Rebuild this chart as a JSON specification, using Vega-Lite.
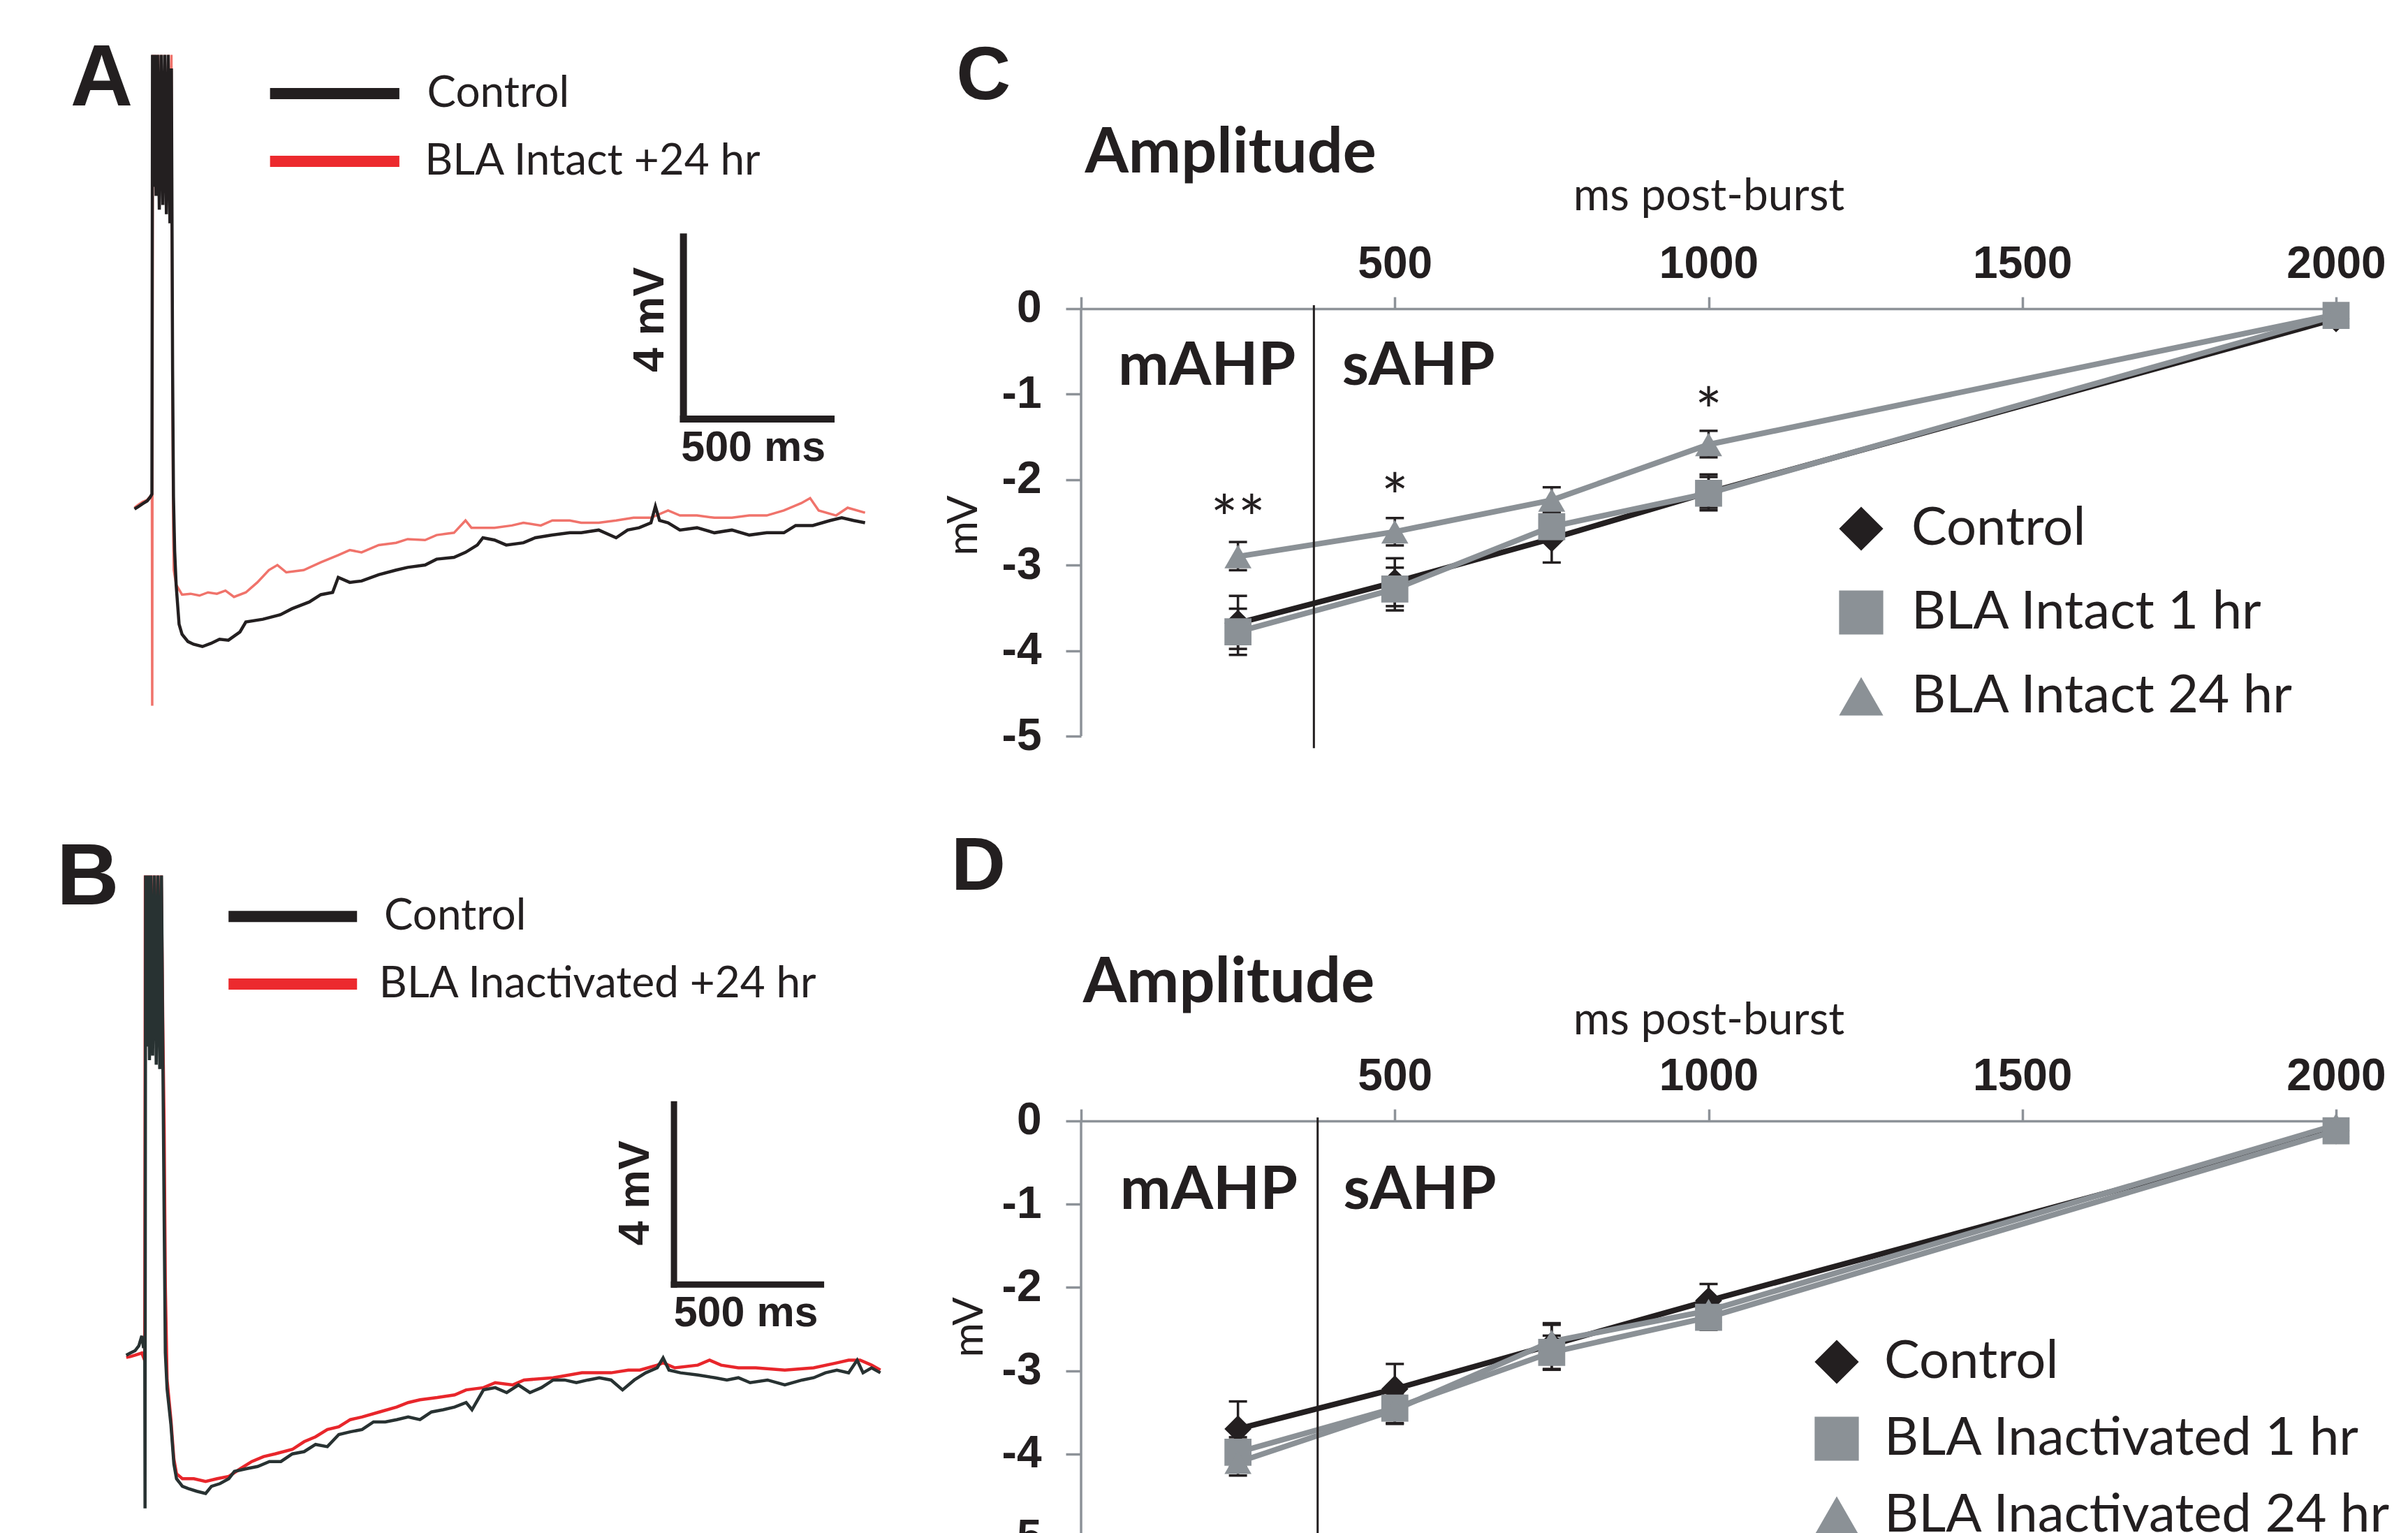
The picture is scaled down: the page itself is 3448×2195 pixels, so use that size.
{
"$schema": "https://vega.github.io/schema/vega-lite/v6.json",
"background": "white",
"padding": {"left": 80, "top": 51, "right": 0, "bottom": 0},
"config": {
  "view": {"stroke": null},
  "axis": {"domainColor": "#8d9298", "tickColor": "#8d9298", "domainWidth": 3.5, "tickWidth": 3.5, "labelColor": "#231f20", "labelFont": "Liberation Sans Narrow, Liberation Sans", "labelFontWeight": "bold", "labelFontSize": 64, "grid": false, "titleColor": "#231f20", "titleFont": "Lato", "titleFontWeight": "normal", "titleFontSize": 62}
},
"datasets": {
  "traceA": [
    {"series":"Control","t":-59,"v":-0.08},{"series":"Control","t":-45,"v":-0.02},{"series":"Control","t":-31,"v":0.04},{"series":"Control","t":-16,"v":0.1},{"series":"Control","t":-6,"v":0.18},{"series":"Control","t":0,"v":0.25},{"series":"Control","t":2,"v":9.9},{"series":"Control","t":5,"v":7.0},{"series":"Control","t":9,"v":9.9},{"series":"Control","t":14,"v":6.8},{"series":"Control","t":19,"v":9.9},{"series":"Control","t":25,"v":6.5},{"series":"Control","t":31,"v":9.9},{"series":"Control","t":37,"v":6.6},{"series":"Control","t":43,"v":9.9},{"series":"Control","t":49,"v":6.4},{"series":"Control","t":55,"v":9.9},{"series":"Control","t":61,"v":6.2},{"series":"Control","t":66,"v":9.6},{"series":"Control","t":68,"v":6.3},{"series":"Control","t":70,"v":3.0},{"series":"Control","t":73,"v":0.2},{"series":"Control","t":77,"v":-1.0},{"series":"Control","t":82,"v":-1.74},{"series":"Control","t":92,"v":-2.61},{"series":"Control","t":102,"v":-2.83},{"series":"Control","t":122,"v":-2.99},{"series":"Control","t":141,"v":-3.05},{"series":"Control","t":171,"v":-3.1},{"series":"Control","t":200,"v":-3.03},{"series":"Control","t":229,"v":-2.94},{"series":"Control","t":259,"v":-2.96},{"series":"Control","t":298,"v":-2.78},{"series":"Control","t":318,"v":-2.56},{"series":"Control","t":376,"v":-2.5},{"series":"Control","t":435,"v":-2.4},{"series":"Control","t":474,"v":-2.27},{"series":"Control","t":533,"v":-2.12},{"series":"Control","t":572,"v":-1.96},{"series":"Control","t":612,"v":-1.91},{"series":"Control","t":631,"v":-1.58},{"series":"Control","t":670,"v":-1.69},{"series":"Control","t":710,"v":-1.66},{"series":"Control","t":768,"v":-1.52},{"series":"Control","t":827,"v":-1.42},{"series":"Control","t":866,"v":-1.36},{"series":"Control","t":925,"v":-1.31},{"series":"Control","t":964,"v":-1.18},{"series":"Control","t":1023,"v":-1.14},{"series":"Control","t":1062,"v":-1.03},{"series":"Control","t":1102,"v":-0.87},{"series":"Control","t":1121,"v":-0.71},{"series":"Control","t":1160,"v":-0.76},{"series":"Control","t":1200,"v":-0.87},{"series":"Control","t":1258,"v":-0.82},{"series":"Control","t":1298,"v":-0.71},{"series":"Control","t":1356,"v":-0.65},{"series":"Control","t":1415,"v":-0.6},{"series":"Control","t":1454,"v":-0.6},{"series":"Control","t":1513,"v":-0.54},{"series":"Control","t":1572,"v":-0.71},{"series":"Control","t":1611,"v":-0.54},{"series":"Control","t":1650,"v":-0.49},{"series":"Control","t":1690,"v":-0.38},{"series":"Control","t":1705,"v":-0.02},{"series":"Control","t":1719,"v":-0.33},{"series":"Control","t":1748,"v":-0.38},{"series":"Control","t":1788,"v":-0.54},{"series":"Control","t":1846,"v":-0.49},{"series":"Control","t":1905,"v":-0.6},{"series":"Control","t":1964,"v":-0.54},{"series":"Control","t":2023,"v":-0.65},{"series":"Control","t":2082,"v":-0.6},{"series":"Control","t":2140,"v":-0.6},{"series":"Control","t":2180,"v":-0.44},{"series":"Control","t":2238,"v":-0.44},{"series":"Control","t":2297,"v":-0.33},{"series":"Control","t":2336,"v":-0.27},{"series":"Control","t":2376,"v":-0.33},{"series":"Control","t":2415,"v":-0.38},
    {"series":"BLA Intact +24 hr","t":-59,"v":-0.05},{"series":"BLA Intact +24 hr","t":-45,"v":0.02},{"series":"BLA Intact +24 hr","t":-31,"v":0.08},{"series":"BLA Intact +24 hr","t":-16,"v":0.12},{"series":"BLA Intact +24 hr","t":-6,"v":0.2},{"series":"BLA Intact +24 hr","t":0,"v":0.2},{"series":"BLA Intact +24 hr","t":1,"v":-4.4},{"series":"BLA Intact +24 hr","t":3,"v":9.9},{"series":"BLA Intact +24 hr","t":7,"v":8.0},{"series":"BLA Intact +24 hr","t":11,"v":9.9},{"series":"BLA Intact +24 hr","t":16,"v":7.6},{"series":"BLA Intact +24 hr","t":21,"v":9.9},{"series":"BLA Intact +24 hr","t":26,"v":7.9},{"series":"BLA Intact +24 hr","t":32,"v":9.9},{"series":"BLA Intact +24 hr","t":38,"v":7.5},{"series":"BLA Intact +24 hr","t":44,"v":9.9},{"series":"BLA Intact +24 hr","t":50,"v":7.8},{"series":"BLA Intact +24 hr","t":56,"v":9.9},{"series":"BLA Intact +24 hr","t":61,"v":7.6},{"series":"BLA Intact +24 hr","t":66,"v":9.9},{"series":"BLA Intact +24 hr","t":68,"v":6.0},{"series":"BLA Intact +24 hr","t":70,"v":2.0},{"series":"BLA Intact +24 hr","t":72,"v":-0.5},{"series":"BLA Intact +24 hr","t":74,"v":-1.42},{"series":"BLA Intact +24 hr","t":82,"v":-1.74},{"series":"BLA Intact +24 hr","t":102,"v":-1.96},{"series":"BLA Intact +24 hr","t":131,"v":-1.94},{"series":"BLA Intact +24 hr","t":161,"v":-1.98},{"series":"BLA Intact +24 hr","t":190,"v":-1.91},{"series":"BLA Intact +24 hr","t":220,"v":-1.94},{"series":"BLA Intact +24 hr","t":249,"v":-1.87},{"series":"BLA Intact +24 hr","t":278,"v":-2.01},{"series":"BLA Intact +24 hr","t":318,"v":-1.91},{"series":"BLA Intact +24 hr","t":357,"v":-1.69},{"series":"BLA Intact +24 hr","t":396,"v":-1.42},{"series":"BLA Intact +24 hr","t":425,"v":-1.31},{"series":"BLA Intact +24 hr","t":455,"v":-1.47},{"series":"BLA Intact +24 hr","t":514,"v":-1.42},{"series":"BLA Intact +24 hr","t":572,"v":-1.25},{"series":"BLA Intact +24 hr","t":631,"v":-1.09},{"series":"BLA Intact +24 hr","t":670,"v":-0.98},{"series":"BLA Intact +24 hr","t":710,"v":-1.03},{"series":"BLA Intact +24 hr","t":768,"v":-0.87},{"series":"BLA Intact +24 hr","t":827,"v":-0.82},{"series":"BLA Intact +24 hr","t":866,"v":-0.74},{"series":"BLA Intact +24 hr","t":925,"v":-0.76},{"series":"BLA Intact +24 hr","t":964,"v":-0.65},{"series":"BLA Intact +24 hr","t":1023,"v":-0.6},{"series":"BLA Intact +24 hr","t":1062,"v":-0.33},{"series":"BLA Intact +24 hr","t":1082,"v":-0.49},{"series":"BLA Intact +24 hr","t":1160,"v":-0.49},{"series":"BLA Intact +24 hr","t":1219,"v":-0.44},{"series":"BLA Intact +24 hr","t":1258,"v":-0.38},{"series":"BLA Intact +24 hr","t":1317,"v":-0.44},{"series":"BLA Intact +24 hr","t":1356,"v":-0.33},{"series":"BLA Intact +24 hr","t":1415,"v":-0.33},{"series":"BLA Intact +24 hr","t":1454,"v":-0.38},{"series":"BLA Intact +24 hr","t":1513,"v":-0.38},{"series":"BLA Intact +24 hr","t":1572,"v":-0.33},{"series":"BLA Intact +24 hr","t":1631,"v":-0.27},{"series":"BLA Intact +24 hr","t":1690,"v":-0.27},{"series":"BLA Intact +24 hr","t":1748,"v":-0.11},{"series":"BLA Intact +24 hr","t":1788,"v":-0.22},{"series":"BLA Intact +24 hr","t":1846,"v":-0.22},{"series":"BLA Intact +24 hr","t":1905,"v":-0.27},{"series":"BLA Intact +24 hr","t":1964,"v":-0.27},{"series":"BLA Intact +24 hr","t":2023,"v":-0.22},{"series":"BLA Intact +24 hr","t":2082,"v":-0.22},{"series":"BLA Intact +24 hr","t":2140,"v":-0.11},{"series":"BLA Intact +24 hr","t":2199,"v":0.05},{"series":"BLA Intact +24 hr","t":2229,"v":0.16},{"series":"BLA Intact +24 hr","t":2258,"v":-0.11},{"series":"BLA Intact +24 hr","t":2317,"v":-0.22},{"series":"BLA Intact +24 hr","t":2356,"v":-0.05},{"series":"BLA Intact +24 hr","t":2415,"v":-0.16}
  ],
  "traceB": [
    {"series":"Control","t":-63,"v":-0.05},{"series":"Control","t":-49,"v":0.0},{"series":"Control","t":-33,"v":0.05},{"series":"Control","t":-20,"v":0.16},{"series":"Control","t":-10,"v":0.38},{"series":"Control","t":-4,"v":0.11},{"series":"Control","t":0,"v":0.2},{"series":"Control","t":1,"v":-3.45},{"series":"Control","t":3,"v":10.6},{"series":"Control","t":7,"v":6.8},{"series":"Control","t":11,"v":10.6},{"series":"Control","t":16,"v":6.5},{"series":"Control","t":21,"v":10.6},{"series":"Control","t":27,"v":6.6},{"series":"Control","t":33,"v":10.6},{"series":"Control","t":39,"v":6.4},{"series":"Control","t":45,"v":10.6},{"series":"Control","t":51,"v":6.3},{"series":"Control","t":57,"v":10.6},{"series":"Control","t":62,"v":6.2},{"series":"Control","t":66,"v":3.0},{"series":"Control","t":70,"v":0.0},{"series":"Control","t":76,"v":-0.8},{"series":"Control","t":89,"v":-1.59},{"series":"Control","t":99,"v":-2.46},{"series":"Control","t":108,"v":-2.79},{"series":"Control","t":128,"v":-2.96},{"series":"Control","t":148,"v":-3.01},{"series":"Control","t":177,"v":-3.07},{"series":"Control","t":207,"v":-3.12},{"series":"Control","t":227,"v":-2.96},{"series":"Control","t":256,"v":-2.9},{"series":"Control","t":286,"v":-2.79},{"series":"Control","t":305,"v":-2.63},{"series":"Control","t":345,"v":-2.57},{"series":"Control","t":384,"v":-2.52},{"series":"Control","t":424,"v":-2.41},{"series":"Control","t":463,"v":-2.41},{"series":"Control","t":502,"v":-2.24},{"series":"Control","t":542,"v":-2.19},{"series":"Control","t":581,"v":-2.03},{"series":"Control","t":621,"v":-2.08},{"series":"Control","t":660,"v":-1.81},{"series":"Control","t":699,"v":-1.75},{"series":"Control","t":739,"v":-1.7},{"series":"Control","t":778,"v":-1.53},{"series":"Control","t":818,"v":-1.53},{"series":"Control","t":857,"v":-1.48},{"series":"Control","t":896,"v":-1.42},{"series":"Control","t":936,"v":-1.48},{"series":"Control","t":975,"v":-1.31},{"series":"Control","t":1015,"v":-1.26},{"series":"Control","t":1054,"v":-1.2},{"series":"Control","t":1093,"v":-1.1},{"series":"Control","t":1113,"v":-1.26},{"series":"Control","t":1152,"v":-0.82},{"series":"Control","t":1192,"v":-0.77},{"series":"Control","t":1231,"v":-0.88},{"series":"Control","t":1271,"v":-0.71},{"series":"Control","t":1310,"v":-0.88},{"series":"Control","t":1349,"v":-0.77},{"series":"Control","t":1389,"v":-0.6},{"series":"Control","t":1428,"v":-0.6},{"series":"Control","t":1468,"v":-0.66},{"series":"Control","t":1507,"v":-0.6},{"series":"Control","t":1546,"v":-0.55},{"series":"Control","t":1586,"v":-0.6},{"series":"Control","t":1625,"v":-0.82},{"series":"Control","t":1665,"v":-0.6},{"series":"Control","t":1704,"v":-0.44},{"series":"Control","t":1743,"v":-0.33},{"series":"Control","t":1763,"v":-0.11},{"series":"Control","t":1783,"v":-0.38},{"series":"Control","t":1822,"v":-0.44},{"series":"Control","t":1881,"v":-0.49},{"series":"Control","t":1940,"v":-0.55},{"series":"Control","t":1980,"v":-0.6},{"series":"Control","t":2019,"v":-0.55},{"series":"Control","t":2059,"v":-0.66},{"series":"Control","t":2118,"v":-0.6},{"series":"Control","t":2177,"v":-0.71},{"series":"Control","t":2236,"v":-0.6},{"series":"Control","t":2275,"v":-0.55},{"series":"Control","t":2315,"v":-0.44},{"series":"Control","t":2354,"v":-0.38},{"series":"Control","t":2394,"v":-0.44},{"series":"Control","t":2423,"v":-0.16},{"series":"Control","t":2443,"v":-0.44},{"series":"Control","t":2472,"v":-0.33},{"series":"Control","t":2502,"v":-0.44},
    {"series":"BLA Inactivated +24 hr","t":-63,"v":-0.1},{"series":"BLA Inactivated +24 hr","t":-49,"v":-0.08},{"series":"BLA Inactivated +24 hr","t":-33,"v":-0.05},{"series":"BLA Inactivated +24 hr","t":-20,"v":-0.02},{"series":"BLA Inactivated +24 hr","t":-10,"v":0.0},{"series":"BLA Inactivated +24 hr","t":-4,"v":-0.1},{"series":"BLA Inactivated +24 hr","t":0,"v":0.0},{"series":"BLA Inactivated +24 hr","t":2,"v":10.6},{"series":"BLA Inactivated +24 hr","t":6,"v":7.5},{"series":"BLA Inactivated +24 hr","t":10,"v":10.6},{"series":"BLA Inactivated +24 hr","t":15,"v":7.2},{"series":"BLA Inactivated +24 hr","t":20,"v":10.6},{"series":"BLA Inactivated +24 hr","t":26,"v":7.4},{"series":"BLA Inactivated +24 hr","t":32,"v":10.6},{"series":"BLA Inactivated +24 hr","t":38,"v":7.1},{"series":"BLA Inactivated +24 hr","t":44,"v":10.6},{"series":"BLA Inactivated +24 hr","t":50,"v":7.0},{"series":"BLA Inactivated +24 hr","t":56,"v":10.6},{"series":"BLA Inactivated +24 hr","t":62,"v":7.0},{"series":"BLA Inactivated +24 hr","t":66,"v":5.0},{"series":"BLA Inactivated +24 hr","t":70,"v":1.5},{"series":"BLA Inactivated +24 hr","t":76,"v":-0.6},{"series":"BLA Inactivated +24 hr","t":89,"v":-1.48},{"series":"BLA Inactivated +24 hr","t":99,"v":-2.35},{"series":"BLA Inactivated +24 hr","t":108,"v":-2.68},{"series":"BLA Inactivated +24 hr","t":128,"v":-2.79},{"series":"BLA Inactivated +24 hr","t":167,"v":-2.79},{"series":"BLA Inactivated +24 hr","t":207,"v":-2.85},{"series":"BLA Inactivated +24 hr","t":246,"v":-2.79},{"series":"BLA Inactivated +24 hr","t":286,"v":-2.74},{"series":"BLA Inactivated +24 hr","t":325,"v":-2.57},{"series":"BLA Inactivated +24 hr","t":364,"v":-2.41},{"series":"BLA Inactivated +24 hr","t":404,"v":-2.3},{"series":"BLA Inactivated +24 hr","t":443,"v":-2.24},{"series":"BLA Inactivated +24 hr","t":502,"v":-2.14},{"series":"BLA Inactivated +24 hr","t":542,"v":-1.97},{"series":"BLA Inactivated +24 hr","t":581,"v":-1.86},{"series":"BLA Inactivated +24 hr","t":621,"v":-1.7},{"series":"BLA Inactivated +24 hr","t":660,"v":-1.64},{"series":"BLA Inactivated +24 hr","t":699,"v":-1.48},{"series":"BLA Inactivated +24 hr","t":739,"v":-1.42},{"series":"BLA Inactivated +24 hr","t":798,"v":-1.31},{"series":"BLA Inactivated +24 hr","t":857,"v":-1.2},{"series":"BLA Inactivated +24 hr","t":896,"v":-1.1},{"series":"BLA Inactivated +24 hr","t":936,"v":-1.04},{"series":"BLA Inactivated +24 hr","t":995,"v":-0.99},{"series":"BLA Inactivated +24 hr","t":1054,"v":-0.93},{"series":"BLA Inactivated +24 hr","t":1093,"v":-0.82},{"series":"BLA Inactivated +24 hr","t":1152,"v":-0.77},{"series":"BLA Inactivated +24 hr","t":1192,"v":-0.66},{"series":"BLA Inactivated +24 hr","t":1251,"v":-0.71},{"series":"BLA Inactivated +24 hr","t":1290,"v":-0.6},{"series":"BLA Inactivated +24 hr","t":1389,"v":-0.55},{"series":"BLA Inactivated +24 hr","t":1487,"v":-0.44},{"series":"BLA Inactivated +24 hr","t":1586,"v":-0.44},{"series":"BLA Inactivated +24 hr","t":1645,"v":-0.38},{"series":"BLA Inactivated +24 hr","t":1684,"v":-0.38},{"series":"BLA Inactivated +24 hr","t":1743,"v":-0.27},{"series":"BLA Inactivated +24 hr","t":1763,"v":-0.22},{"series":"BLA Inactivated +24 hr","t":1803,"v":-0.33},{"series":"BLA Inactivated +24 hr","t":1881,"v":-0.27},{"series":"BLA Inactivated +24 hr","t":1921,"v":-0.16},{"series":"BLA Inactivated +24 hr","t":1960,"v":-0.27},{"series":"BLA Inactivated +24 hr","t":2019,"v":-0.33},{"series":"BLA Inactivated +24 hr","t":2078,"v":-0.33},{"series":"BLA Inactivated +24 hr","t":2177,"v":-0.38},{"series":"BLA Inactivated +24 hr","t":2275,"v":-0.33},{"series":"BLA Inactivated +24 hr","t":2354,"v":-0.22},{"series":"BLA Inactivated +24 hr","t":2394,"v":-0.16},{"series":"BLA Inactivated +24 hr","t":2433,"v":-0.16},{"series":"BLA Inactivated +24 hr","t":2472,"v":-0.27},{"series":"BLA Inactivated +24 hr","t":2502,"v":-0.38}
  ],
  "ampC": [
    {"series":"Control","t":250,"mean":-3.68,"lo":-3.98,"hi":-3.36},
    {"series":"Control","t":500,"mean":-3.2,"lo":-3.48,"hi":-2.92},
    {"series":"Control","t":750,"mean":-2.69,"lo":-2.97,"hi":-2.41},
    {"series":"Control","t":1000,"mean":-2.15,"lo":-2.33,"hi":-1.97},
    {"series":"Control","t":2000,"mean":-0.12,"lo":-0.15,"hi":-0.09},
    {"series":"BLA Intact 1 hr","t":250,"mean":-3.78,"lo":-4.05,"hi":-3.51},
    {"series":"BLA Intact 1 hr","t":500,"mean":-3.28,"lo":-3.53,"hi":-3.03},
    {"series":"BLA Intact 1 hr","t":750,"mean":-2.55,"lo":-2.73,"hi":-2.38},
    {"series":"BLA Intact 1 hr","t":1000,"mean":-2.16,"lo":-2.36,"hi":-1.94},
    {"series":"BLA Intact 1 hr","t":2000,"mean":-0.08,"lo":-0.11,"hi":-0.05},
    {"series":"BLA Intact 24 hr","t":250,"mean":-2.9,"lo":-3.06,"hi":-2.73},
    {"series":"BLA Intact 24 hr","t":500,"mean":-2.61,"lo":-2.77,"hi":-2.45},
    {"series":"BLA Intact 24 hr","t":750,"mean":-2.24,"lo":-2.39,"hi":-2.09},
    {"series":"BLA Intact 24 hr","t":1000,"mean":-1.59,"lo":-1.74,"hi":-1.43},
    {"series":"BLA Intact 24 hr","t":2000,"mean":-0.07,"lo":-0.1,"hi":-0.04}
  ],
  "ampD": [
    {"series":"Control","t":250,"mean":-3.7,"lo":-4.03,"hi":-3.37},
    {"series":"Control","t":500,"mean":-3.22,"lo":-3.52,"hi":-2.92},
    {"series":"Control","t":750,"mean":-2.69,"lo":-2.99,"hi":-2.43},
    {"series":"Control","t":1000,"mean":-2.16,"lo":-2.36,"hi":-1.96},
    {"series":"Control","t":2000,"mean":-0.12,"lo":-0.15,"hi":-0.09},
    {"series":"BLA Inactivated 1 hr","t":250,"mean":-3.98,"lo":-4.16,"hi":-3.8},
    {"series":"BLA Inactivated 1 hr","t":500,"mean":-3.45,"lo":-3.63,"hi":-3.27},
    {"series":"BLA Inactivated 1 hr","t":750,"mean":-2.78,"lo":-2.98,"hi":-2.58},
    {"series":"BLA Inactivated 1 hr","t":1000,"mean":-2.36,"lo":-2.51,"hi":-2.21},
    {"series":"BLA Inactivated 1 hr","t":2000,"mean":-0.12,"lo":-0.15,"hi":-0.09},
    {"series":"BLA Inactivated 24 hr","t":250,"mean":-4.1,"lo":-4.26,"hi":-3.94},
    {"series":"BLA Inactivated 24 hr","t":500,"mean":-3.47,"lo":-3.64,"hi":-3.3},
    {"series":"BLA Inactivated 24 hr","t":750,"mean":-2.65,"lo":-2.85,"hi":-2.45},
    {"series":"BLA Inactivated 24 hr","t":1000,"mean":-2.28,"lo":-2.43,"hi":-2.13},
    {"series":"BLA Inactivated 24 hr","t":2000,"mean":-0.05,"lo":-0.08,"hi":-0.02}
  ],
  "starsC": [
    {"t":250,"label":"**","v":-2.72},
    {"t":500,"label":"*","v":-2.47},
    {"t":1000,"label":"*","v":-1.46}
  ]
},
"columns": 2,
"bounds": "flush",
"spacing": {"row": 193, "column": 284},
"resolve": {"scale": {"color": "independent", "shape": "independent"}, "legend": {"color": "independent", "shape": "independent"}},
"concat": [
  {
    "width": 1067, "height": 945,
    "layer": [
      {"data": {"name": "traceA"}, "transform": [{"filter": "datum.series === 'BLA Intact +24 hr'"}],
       "mark": {"type": "line", "color": "#f0736b", "strokeWidth": 3.5},
       "encoding": {"x": {"field": "t", "type": "quantitative", "scale": {"domain": [-93.5, 2430], "nice": false, "zero": false}, "axis": null},
                    "y": {"field": "v", "type": "quantitative", "scale": {"domain": [-4.5, 10], "nice": false, "zero": false}, "axis": null}}},
      {"data": {"name": "traceA"}, "transform": [{"filter": "datum.series === 'Control'"}],
       "mark": {"type": "line", "color": "#231f20", "strokeWidth": 4.5},
       "encoding": {"x": {"field": "t", "type": "quantitative", "axis": null},
                    "y": {"field": "v", "type": "quantitative", "axis": null}}},
      {"data": {"values": [{}]}, "mark": {"type": "rule", "color": "#231f20", "strokeWidth": 16},
       "encoding": {"x": {"datum": 400, "axis": null}, "x2": {"datum": 838}, "y": {"datum": 9.05, "axis": null}}},
      {"data": {"values": [{}]}, "mark": {"type": "rule", "color": "#ec2a2e", "strokeWidth": 16},
       "encoding": {"x": {"datum": 400, "axis": null}, "x2": {"datum": 838}, "y": {"datum": 7.56, "axis": null}}},
      {"data": {"values": [{"label": "Control"}]}, "mark": {"type": "text", "font": "Lato", "fontSize": 62, "align": "left", "baseline": "middle", "color": "#231f20"},
       "encoding": {"text": {"field": "label"}, "x": {"datum": 932, "axis": null}, "y": {"datum": 9.05, "axis": null}}},
      {"data": {"values": [{"label": "BLA Intact +24 hr"}]}, "mark": {"type": "text", "font": "Lato", "fontSize": 62, "align": "left", "baseline": "middle", "color": "#231f20"},
       "encoding": {"text": {"field": "label"}, "x": {"datum": 924, "axis": null}, "y": {"datum": 7.56, "axis": null}}},
      {"data": {"values": [{}]}, "mark": {"type": "rule", "color": "#231f20", "strokeWidth": 10, "strokeCap": "square"},
       "encoding": {"x": {"datum": 1800, "axis": null}, "y": {"datum": 1.9, "axis": null}, "y2": {"datum": 5.9}}},
      {"data": {"values": [{}]}, "mark": {"type": "rule", "color": "#231f20", "strokeWidth": 10, "strokeCap": "square"},
       "encoding": {"x": {"datum": 1800, "axis": null}, "x2": {"datum": 2300}, "y": {"datum": 1.9, "axis": null}}},
      {"data": {"values": [{"label": "4 mV"}]}, "mark": {"type": "text", "font": "Liberation Sans", "fontWeight": "bold", "fontSize": 63, "angle": 270, "align": "center", "baseline": "middle", "color": "#231f20"},
       "encoding": {"text": {"field": "label"}, "x": {"datum": 1688, "axis": null}, "y": {"datum": 4.08, "axis": null}}},
      {"data": {"values": [{"label": "500 ms"}]}, "mark": {"type": "text", "font": "Liberation Sans", "fontWeight": "bold", "fontSize": 61, "align": "left", "baseline": "alphabetic", "color": "#231f20"},
       "encoding": {"text": {"field": "label"}, "x": {"datum": 1792, "axis": null}, "y": {"datum": 0.98, "axis": null}}},
      {"data": {"values": [{"label": "A"}]}, "mark": {"type": "text", "font": "Liberation Sans", "fontWeight": "bold", "fontSize": 124, "align": "left", "baseline": "alphabetic", "color": "#231f20"},
       "encoding": {"text": {"field": "label"}, "x": {"datum": -276, "axis": null}, "y": {"datum": 8.79, "axis": null}}}
    ]
  },
  {
    "width": 1797, "height": 982,
    "layer": [
      {"data": {"name": "ampC"}, "transform": [{"filter": "datum.series === 'Control'"}], "mark": {"type": "line", "strokeWidth": 8, "color": "#231f20"},
       "encoding": {
         "x": {"field": "t", "type": "quantitative", "scale": {"domain": [0, 2000], "nice": false, "zero": false},
               "axis": {"orient": "top", "offset": -370, "values": [0, 500, 1000, 1500, 2000], "format": "d", "labelExpr": "datum.value === 0 ? '' : datum.label", "tickSize": 17, "labelPadding": 15, "labelFlush": false, "labelOverlap": false, "title": "ms post-burst", "titleFontSize": 64, "titlePadding": 33}},
         "y": {"field": "mean", "type": "quantitative", "scale": {"domain": [-5, 3.02], "nice": false, "zero": false},
               "axis": {"orient": "left", "values": [0, -1, -2, -3, -4, -5], "labelExpr": "datum.value === 0 ? '0' : '-' + (-datum.value)", "domain": false, "tickSize": 22, "labelPadding": 35, "title": "mV", "titleX": -168, "titleY": 680, "titleAngle": 270, "titleAlign": "center", "titleBaseline": "middle", "titleFontSize": 60}}
       }},
      {"data": {"name": "ampC"}, "transform": [{"filter": "datum.series === 'BLA Intact 1 hr'"}], "mark": {"type": "line", "strokeWidth": 8, "color": "#8b9196"},
       "encoding": {"x": {"field": "t", "type": "quantitative"}, "y": {"field": "mean", "type": "quantitative"}}},
      {"data": {"name": "ampC"}, "transform": [{"filter": "datum.series === 'BLA Intact 24 hr'"}], "mark": {"type": "line", "strokeWidth": 8, "color": "#8b9196"},
       "encoding": {"x": {"field": "t", "type": "quantitative"}, "y": {"field": "mean", "type": "quantitative"}}},
      {"data": {"name": "ampC"}, "mark": {"type": "rule", "color": "#231f20", "strokeWidth": 3.5},
       "encoding": {"x": {"field": "t", "type": "quantitative"}, "y": {"field": "lo", "type": "quantitative"}, "y2": {"field": "hi"}}},
      {"data": {"name": "ampC"}, "mark": {"type": "tick", "orient": "horizontal", "size": 26, "thickness": 3.5, "color": "#231f20", "opacity": 1},
       "encoding": {"x": {"field": "t", "type": "quantitative"}, "y": {"field": "lo", "type": "quantitative"}}},
      {"data": {"name": "ampC"}, "mark": {"type": "tick", "orient": "horizontal", "size": 26, "thickness": 3.5, "color": "#231f20", "opacity": 1},
       "encoding": {"x": {"field": "t", "type": "quantitative"}, "y": {"field": "hi", "type": "quantitative"}}},
      {"data": {"name": "ampC"}, "mark": {"type": "point", "filled": true, "opacity": 1, "size": 1500, "strokeWidth": 0},
       "encoding": {
         "x": {"field": "t", "type": "quantitative"},
         "y": {"field": "mean", "type": "quantitative"},
         "color": {"field": "series", "type": "nominal", "scale": {"domain": ["Control", "BLA Intact 1 hr", "BLA Intact 24 hr"], "range": ["#231f20", "#8b9196", "#8b9196"]}, "legend": {"orient": "none", "legendX": 1079, "legendY": 647, "direction": "vertical", "title": null, "labelFont": "Lato", "labelFontSize": 76, "labelColor": "#231f20", "labelLimit": 1500, "symbolSize": 4000, "rowPadding": 44, "labelOffset": 34, "symbolStrokeWidth": 0}},
         "shape": {"field": "series", "type": "nominal", "scale": {"domain": ["Control", "BLA Intact 1 hr", "BLA Intact 24 hr"], "range": ["diamond", "square", "triangle-up"]}, "legend": {"orient": "none", "legendX": 1079, "legendY": 647, "direction": "vertical", "title": null, "labelFont": "Lato", "labelFontSize": 76, "labelColor": "#231f20", "labelLimit": 1500, "symbolSize": 4000, "rowPadding": 44, "labelOffset": 34, "symbolStrokeWidth": 0}}
       }},
      {"data": {"values": [{}]}, "mark": {"type": "rule", "color": "#8d9298", "strokeWidth": 3.5},
       "encoding": {"x": {"datum": 0}, "y": {"datum": 0}, "y2": {"datum": -5}}},
      {"data": {"values": [{}]}, "mark": {"type": "rule", "color": "#231f20", "strokeWidth": 3},
       "encoding": {"x": {"datum": 371}, "y": {"datum": 0.04}, "y2": {"datum": -5.14}}},
      {"data": {"values": [{"label": "Amplitude"}]}, "mark": {"type": "text", "font": "Lato", "fontWeight": "bold", "fontSize": 90, "align": "left", "baseline": "alphabetic", "color": "#231f20"},
       "encoding": {"text": {"field": "label"}, "x": {"datum": 6}, "y": {"datum": 1.59}}},
      {"data": {"values": [{"label": "mAHP"}]}, "mark": {"type": "text", "font": "Lato", "fontWeight": "bold", "fontSize": 87, "align": "right", "baseline": "alphabetic", "color": "#231f20"},
       "encoding": {"text": {"field": "label"}, "x": {"datum": 342}, "y": {"datum": -0.89}}},
      {"data": {"values": [{"label": "sAHP"}]}, "mark": {"type": "text", "font": "Lato", "fontWeight": "bold", "fontSize": 87, "align": "left", "baseline": "alphabetic", "color": "#231f20"},
       "encoding": {"text": {"field": "label"}, "x": {"datum": 416}, "y": {"datum": -0.89}}},
      {"data": {"values": [{"label": "C"}]}, "mark": {"type": "text", "font": "Liberation Sans", "fontWeight": "bold", "fontSize": 108, "align": "left", "baseline": "alphabetic", "color": "#231f20"},
       "encoding": {"text": {"field": "label"}, "x": {"datum": -199}, "y": {"datum": 2.45}}},
      {"data": {"name": "starsC"}, "mark": {"type": "text", "font": "Lato", "fontSize": 92, "align": "center", "baseline": "alphabetic", "color": "#231f20"},
       "encoding": {"text": {"field": "label"}, "x": {"field": "t", "type": "quantitative"}, "y": {"field": "v", "type": "quantitative"}}}
    ]
  },
  {
    "width": 1086, "height": 916,
    "layer": [
      {"data": {"name": "traceB"}, "transform": [{"filter": "datum.series === 'BLA Inactivated +24 hr'"}],
       "mark": {"type": "line", "color": "#e8262b", "strokeWidth": 4.5},
       "encoding": {"x": {"field": "t", "type": "quantitative", "scale": {"domain": [-69.5, 2510], "nice": false, "zero": false}, "axis": null},
                    "y": {"field": "v", "type": "quantitative", "scale": {"domain": [-3.5, 10.7], "nice": false, "zero": false}, "axis": null}}},
      {"data": {"name": "traceB"}, "transform": [{"filter": "datum.series === 'Control'"}],
       "mark": {"type": "line", "color": "#283232", "strokeWidth": 4.5},
       "encoding": {"x": {"field": "t", "type": "quantitative", "axis": null},
                    "y": {"field": "v", "type": "quantitative", "axis": null}}},
      {"data": {"values": [{}]}, "mark": {"type": "rule", "color": "#231f20", "strokeWidth": 16},
       "encoding": {"x": {"datum": 285, "axis": null}, "x2": {"datum": 722}, "y": {"datum": 9.69, "axis": null}}},
      {"data": {"values": [{}]}, "mark": {"type": "rule", "color": "#ec2a2e", "strokeWidth": 16},
       "encoding": {"x": {"datum": 285, "axis": null}, "x2": {"datum": 722}, "y": {"datum": 8.19, "axis": null}}},
      {"data": {"values": [{"label": "Control"}]}, "mark": {"type": "text", "font": "Lato", "fontSize": 62, "align": "left", "baseline": "middle", "color": "#231f20"},
       "encoding": {"text": {"field": "label"}, "x": {"datum": 814, "axis": null}, "y": {"datum": 9.69, "axis": null}}},
      {"data": {"values": [{"label": "BLA Inactivated +24 hr"}]}, "mark": {"type": "text", "font": "Lato", "fontSize": 62, "align": "left", "baseline": "middle", "color": "#231f20"},
       "encoding": {"text": {"field": "label"}, "x": {"datum": 797, "axis": null}, "y": {"datum": 8.19, "axis": null}}},
      {"data": {"values": [{}]}, "mark": {"type": "rule", "color": "#231f20", "strokeWidth": 9, "strokeCap": "square"},
       "encoding": {"x": {"datum": 1800, "axis": null}, "y": {"datum": 1.52, "axis": null}, "y2": {"datum": 5.52}}},
      {"data": {"values": [{}]}, "mark": {"type": "rule", "color": "#231f20", "strokeWidth": 9, "strokeCap": "square"},
       "encoding": {"x": {"datum": 1800, "axis": null}, "x2": {"datum": 2300}, "y": {"datum": 1.52, "axis": null}}},
      {"data": {"values": [{"label": "4 mV"}]}, "mark": {"type": "text", "font": "Liberation Sans", "fontWeight": "bold", "fontSize": 63, "angle": 270, "align": "center", "baseline": "middle", "color": "#231f20"},
       "encoding": {"text": {"field": "label"}, "x": {"datum": 1669, "axis": null}, "y": {"datum": 3.55, "axis": null}}},
      {"data": {"values": [{"label": "500 ms"}]}, "mark": {"type": "text", "font": "Liberation Sans", "fontWeight": "bold", "fontSize": 61, "align": "left", "baseline": "alphabetic", "color": "#231f20"},
       "encoding": {"text": {"field": "label"}, "x": {"datum": 1799, "axis": null}, "y": {"datum": 0.6, "axis": null}}},
      {"data": {"values": [{"label": "B"}]}, "mark": {"type": "text", "font": "Liberation Sans", "fontWeight": "bold", "fontSize": 124, "align": "left", "baseline": "alphabetic", "color": "#231f20"},
       "encoding": {"text": {"field": "label"}, "x": {"datum": -300, "axis": null}, "y": {"datum": 9.96, "axis": null}}}
    ]
  },
  {
    "width": 1797, "height": 954,
    "layer": [
      {"data": {"name": "ampD"}, "transform": [{"filter": "datum.series === 'Control'"}], "mark": {"type": "line", "strokeWidth": 8, "color": "#231f20"},
       "encoding": {
         "x": {"field": "t", "type": "quantitative", "scale": {"domain": [0, 2000], "nice": false, "zero": false},
               "axis": {"orient": "top", "offset": -358, "values": [0, 500, 1000, 1500, 2000], "format": "d", "labelExpr": "datum.value === 0 ? '' : datum.label", "tickSize": 17, "labelPadding": 15, "labelFlush": false, "labelOverlap": false, "title": "ms post-burst", "titleFontSize": 64, "titlePadding": 16}},
         "y": {"field": "mean", "type": "quantitative", "scale": {"domain": [-5, 3.0], "nice": false, "zero": false},
               "axis": {"orient": "left", "values": [0, -1, -2, -3, -4, -5], "labelExpr": "datum.value === 0 ? '0' : '-' + (-datum.value)", "domain": false, "tickSize": 22, "labelPadding": 35, "title": "mV", "titleX": -160, "titleY": 653, "titleAngle": 270, "titleAlign": "center", "titleBaseline": "middle", "titleFontSize": 60}}
       }},
      {"data": {"name": "ampD"}, "transform": [{"filter": "datum.series === 'BLA Inactivated 1 hr'"}], "mark": {"type": "line", "strokeWidth": 8, "color": "#8b9196"},
       "encoding": {"x": {"field": "t", "type": "quantitative"}, "y": {"field": "mean", "type": "quantitative"}}},
      {"data": {"name": "ampD"}, "transform": [{"filter": "datum.series === 'BLA Inactivated 24 hr'"}], "mark": {"type": "line", "strokeWidth": 8, "color": "#8b9196"},
       "encoding": {"x": {"field": "t", "type": "quantitative"}, "y": {"field": "mean", "type": "quantitative"}}},
      {"data": {"name": "ampD"}, "mark": {"type": "rule", "color": "#231f20", "strokeWidth": 3.5},
       "encoding": {"x": {"field": "t", "type": "quantitative"}, "y": {"field": "lo", "type": "quantitative"}, "y2": {"field": "hi"}}},
      {"data": {"name": "ampD"}, "mark": {"type": "tick", "orient": "horizontal", "size": 26, "thickness": 3.5, "color": "#231f20", "opacity": 1},
       "encoding": {"x": {"field": "t", "type": "quantitative"}, "y": {"field": "lo", "type": "quantitative"}}},
      {"data": {"name": "ampD"}, "mark": {"type": "tick", "orient": "horizontal", "size": 26, "thickness": 3.5, "color": "#231f20", "opacity": 1},
       "encoding": {"x": {"field": "t", "type": "quantitative"}, "y": {"field": "hi", "type": "quantitative"}}},
      {"data": {"name": "ampD"}, "mark": {"type": "point", "filled": true, "opacity": 1, "size": 1500, "strokeWidth": 0},
       "encoding": {
         "x": {"field": "t", "type": "quantitative"},
         "y": {"field": "mean", "type": "quantitative"},
         "color": {"field": "series", "type": "nominal", "scale": {"domain": ["Control", "BLA Inactivated 1 hr", "BLA Inactivated 24 hr"], "range": ["#231f20", "#8b9196", "#8b9196"]}, "legend": {"orient": "none", "legendX": 1044, "legendY": 665, "direction": "vertical", "title": null, "labelFont": "Lato", "labelFontSize": 76, "labelColor": "#231f20", "labelLimit": 1500, "symbolSize": 4000, "rowPadding": 34, "labelOffset": 30, "symbolStrokeWidth": 0}},
         "shape": {"field": "series", "type": "nominal", "scale": {"domain": ["Control", "BLA Inactivated 1 hr", "BLA Inactivated 24 hr"], "range": ["diamond", "square", "triangle-up"]}, "legend": {"orient": "none", "legendX": 1044, "legendY": 665, "direction": "vertical", "title": null, "labelFont": "Lato", "labelFontSize": 76, "labelColor": "#231f20", "labelLimit": 1500, "symbolSize": 4000, "rowPadding": 34, "labelOffset": 30, "symbolStrokeWidth": 0}}
       }},
      {"data": {"values": [{}]}, "mark": {"type": "rule", "color": "#8d9298", "strokeWidth": 3.5},
       "encoding": {"x": {"datum": 0}, "y": {"datum": 0}, "y2": {"datum": -5}}},
      {"data": {"values": [{}]}, "mark": {"type": "rule", "color": "#231f20", "strokeWidth": 3},
       "encoding": {"x": {"datum": 377}, "y": {"datum": 0.04}, "y2": {"datum": -5.2}}},
      {"data": {"values": [{"label": "Amplitude"}]}, "mark": {"type": "text", "font": "Lato", "fontWeight": "bold", "fontSize": 90, "align": "left", "baseline": "alphabetic", "color": "#231f20"},
       "encoding": {"text": {"field": "label"}, "x": {"datum": 3}, "y": {"datum": 1.42}}},
      {"data": {"values": [{"label": "mAHP"}]}, "mark": {"type": "text", "font": "Lato", "fontWeight": "bold", "fontSize": 87, "align": "right", "baseline": "alphabetic", "color": "#231f20"},
       "encoding": {"text": {"field": "label"}, "x": {"datum": 345}, "y": {"datum": -1.06}}},
      {"data": {"values": [{"label": "sAHP"}]}, "mark": {"type": "text", "font": "Lato", "fontWeight": "bold", "fontSize": 87, "align": "left", "baseline": "alphabetic", "color": "#231f20"},
       "encoding": {"text": {"field": "label"}, "x": {"datum": 418}, "y": {"datum": -1.06}}},
      {"data": {"values": [{"label": "D"}]}, "mark": {"type": "text", "font": "Liberation Sans", "fontWeight": "bold", "fontSize": 108, "align": "left", "baseline": "alphabetic", "color": "#231f20"},
       "encoding": {"text": {"field": "label"}, "x": {"datum": -207}, "y": {"datum": 2.77}}}
    ]
  }
]
}
